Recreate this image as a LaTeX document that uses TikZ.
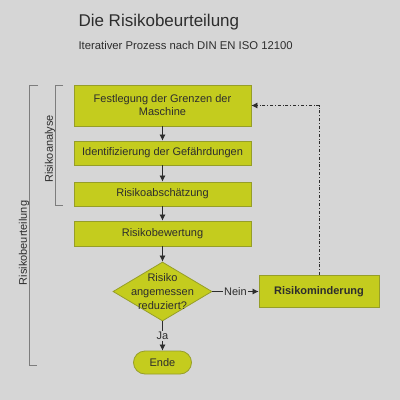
\documentclass[tikz,border=0pt]{standalone}
\usepackage{fontspec}
\setmainfont{Liberation Sans}
\usetikzlibrary{shapes,arrows,arrows.meta,positioning,calc}
\definecolor{bgrey}{RGB}{214,214,214}
\definecolor{boxfill}{RGB}{196,204,30}
\definecolor{boxline}{RGB}{150,158,40}
\definecolor{ink}{RGB}{45,45,45}
\definecolor{brackline}{RGB}{125,125,125}

\begin{document}
\begin{tikzpicture}[x=1pt,y=-1pt,
    every node/.style={text=ink},
    stepbox/.style={draw=boxline, fill=boxfill, line width=0.8pt, inner sep=0pt,
      align=center, font=\fontsize{11}{13}\selectfont},
    flow/.style={draw=ink, line width=0.7pt, -{Latex[length=6pt,width=6pt]}},
    brack/.style={draw=brackline, line width=0.6pt},
    lbl/.style={fill=bgrey, inner sep=1pt, font=\fontsize{11}{13}\selectfont}]
  \fill[bgrey] (0,0) rectangle (400,400);
  \useasboundingbox (0,0) rectangle (400,400);
  %header
  \node[anchor=base west, font=\fontsize{17}{20}\selectfont] (title) at (75,26) {Die Risikobeurteilung};
  \node[anchor=base west, font=\fontsize{11.3}{13}\selectfont] (sub) at (75,49.5) {Iterativer Prozess nach DIN EN ISO 12100};
  %steps
  \node[stepbox, minimum width=177, minimum height=41] (fest) at (162.5,105.5) {Festlegung der Grenzen der\\Maschine};
  \node[stepbox, minimum width=177, minimum height=24] (ident) at (162.5,153) {Identifizierung der Gefährdungen};
  \node[stepbox, minimum width=177, minimum height=24] (absch) at (162.5,194) {Risikoabschätzung};
  \node[stepbox, minimum width=177, minimum height=25] (bew) at (162.5,233.5) {Risikobewertung};
  \node[stepbox, diamond, minimum width=99, minimum height=59,
    label={[align=center, font=\fontsize{11}{14}\selectfont]center:Risiko\\angemessen\\reduziert?}] (dec) at (162.5,291.5) {};
  \node[stepbox, minimum width=120, minimum height=32, font=\fontsize{11}{13}\selectfont\bfseries] (mind) at (319,291.5) {Risikominderung};
  \node[stepbox, rounded rectangle, minimum width=58, minimum height=23] (ende) at (162.5,362.5) {Ende};
  \draw[flow] (fest) -- (ident);
  \draw[flow] (ident) -- (absch);
  \draw[flow] (absch) -- (bew);
  \draw[flow] (bew) -- (dec);
  \draw[flow] (dec) -- node[lbl] {Nein} (mind);
  \draw[flow] (dec) -- node[lbl] {Ja} (ende);
  \draw[flow, dashdotted] (mind.north) |- (fest.east);
  %brackets
  \draw[brack] (63,85) -- (55,85) -- (55,205) -- (63,205);
  \node[rotate=90, inner sep=0pt, font=\fontsize{11}{13}\selectfont] (ana) at (50,149) {Risikoanalyse};
  \draw[brack] (38,85) -- (29.5,85) -- (29.5,365) -- (37,365);
  \node[rotate=90, inner sep=0pt, font=\fontsize{11}{13}\selectfont] (beu) at (24,243) {Risikobeurteilung};
\end{tikzpicture}
\end{document}
